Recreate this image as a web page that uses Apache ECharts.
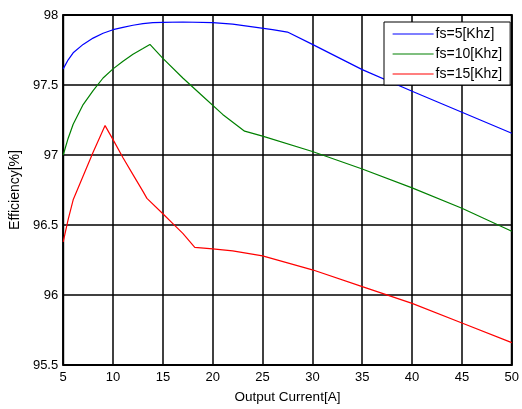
<!DOCTYPE html>
<html>
<head>
<meta charset="utf-8">
<script src="https://cdn.jsdelivr.net/npm/echarts@6/dist/echarts.min.js"></script>
<style>
  html, body { margin: 0; padding: 0; background: #fff; }
  #chart { width: 522px; height: 409px; }
</style>
</head>
<body>
<div id="chart"></div>
<script>
// Converter efficiency vs. output current at three switching frequencies
const seriesNames = ['fs=5[Khz]', 'fs=10[Khz]', 'fs=15[Khz]'];

const current5 = [5, 5.5, 6, 7, 8, 9, 10, 11, 12, 13, 14, 15, 17, 20, 22, 24, 26, 27.5, 30, 35, 40, 45, 50];
const eff5 = [97.615, 97.68, 97.73, 97.79, 97.835, 97.87, 97.895, 97.912, 97.927, 97.938, 97.945, 97.948, 97.95, 97.946, 97.935, 97.915, 97.895, 97.878, 97.79, 97.61, 97.455, 97.305, 97.155];

const current10 = [5, 5.5, 6, 7, 8, 9, 10, 11, 12, 13, 13.7, 15, 17, 19, 21, 23.2, 25, 30, 35, 40, 45, 50];
const eff10 = [97.0, 97.12, 97.22, 97.36, 97.46, 97.55, 97.615, 97.67, 97.72, 97.76, 97.79, 97.69, 97.55, 97.42, 97.29, 97.17, 97.135, 97.025, 96.90, 96.765, 96.62, 96.455];

const current15 = [5, 5.5, 6, 7, 8, 9.2, 10, 11, 12, 13, 13.4, 15, 16, 17, 18.2, 20, 22, 25, 30, 35, 40, 45, 50];
const eff15 = [96.38, 96.54, 96.68, 96.85, 97.02, 97.21, 97.11, 96.98, 96.86, 96.74, 96.69, 96.58, 96.51, 96.44, 96.34, 96.33, 96.315, 96.28, 96.18, 96.06, 95.94, 95.80, 95.66];

const seriesColors = ['#0000ff', '#008000', '#ff0000'];

const xTicks = { min: 5, max: 50, step: 5 };
const yTicks = { min: 95.5, max: 98, step: 0.5 };

const pairs = (xs, ys) => xs.map((x, i) => [x, ys[i]]);
const datasets = [pairs(current5, eff5), pairs(current10, eff10), pairs(current15, eff15)];

const font = '"Liberation Sans", Arial, sans-serif';
const chart = echarts.init(document.getElementById('chart'), null, { renderer: 'canvas' });

chart.setOption({
  animation: false,
  backgroundColor: '#fff',
  grid: {
    left: 62, top: 15, width: 453, height: 353,
    show: true, borderColor: '#000', borderWidth: 2, backgroundColor: 'transparent'
  },
  legend: {
    data: seriesNames,
    orient: 'vertical',
    left: 384, top: 22,
    padding: [5, 8, 4, 8],
    itemGap: 6,
    itemWidth: 41,
    itemHeight: 14,
    borderColor: '#000', borderWidth: 1,
    backgroundColor: '#fff',
    itemStyle: { opacity: 0 },
    lineStyle: { width: 1.2 },
    textStyle: { fontFamily: font, fontSize: 14, color: '#000', padding: [0, 0, 0, -3] }
  },
  xAxis: {
    type: 'value',
    min: xTicks.min, max: xTicks.max, interval: xTicks.step,
    name: 'Output Current[A]',
    nameLocation: 'middle',
    nameGap: 25,
    nameTextStyle: { fontFamily: font, fontSize: 13.5, color: '#000' },
    axisLine: { show: false },
    axisTick: { show: false },
    axisLabel: { fontFamily: font, fontSize: 13, color: '#000', margin: 6 },
    splitLine: { show: true, lineStyle: { color: '#000', width: 1.5 } }
  },
  yAxis: {
    type: 'value',
    min: yTicks.min, max: yTicks.max, interval: yTicks.step,
    name: 'Efficiency[%]',
    nameLocation: 'middle',
    nameGap: 36,
    nameTextStyle: { fontFamily: font, fontSize: 14, color: '#000' },
    axisLine: { show: false },
    axisTick: { show: false },
    axisLabel: { fontFamily: font, fontSize: 13, color: '#000', margin: 5 },
    splitLine: { show: true, lineStyle: { color: '#000', width: 1.5 } }
  },
  series: seriesNames.map((name, i) => ({
    name,
    type: 'line',
    data: datasets[i],
    showSymbol: false,
    symbol: 'none',
    color: seriesColors[i],
    lineStyle: { color: seriesColors[i], width: 1.2 },
    z: 3
  }))
});
</script>
</body>
</html>
